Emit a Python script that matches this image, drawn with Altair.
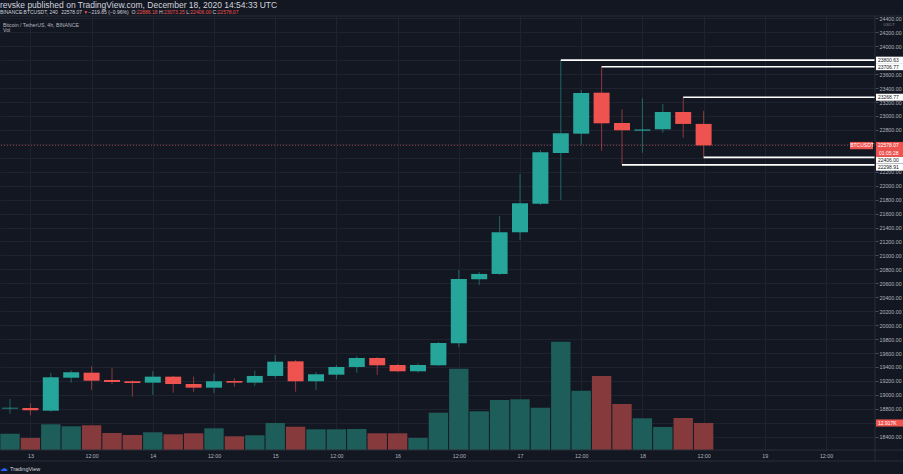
import altair as alt
import pandas as pd

# ---------------- data ----------------
times = [
    "2020-12-12T20:00:00Z",
    "2020-12-13T00:00:00Z", "2020-12-13T04:00:00Z", "2020-12-13T08:00:00Z",
    "2020-12-13T12:00:00Z", "2020-12-13T16:00:00Z", "2020-12-13T20:00:00Z",
    "2020-12-14T00:00:00Z", "2020-12-14T04:00:00Z", "2020-12-14T08:00:00Z",
    "2020-12-14T12:00:00Z", "2020-12-14T16:00:00Z", "2020-12-14T20:00:00Z",
    "2020-12-15T00:00:00Z", "2020-12-15T04:00:00Z", "2020-12-15T08:00:00Z",
    "2020-12-15T12:00:00Z", "2020-12-15T16:00:00Z", "2020-12-15T20:00:00Z",
    "2020-12-16T00:00:00Z", "2020-12-16T04:00:00Z", "2020-12-16T08:00:00Z",
    "2020-12-16T12:00:00Z", "2020-12-16T16:00:00Z", "2020-12-16T20:00:00Z",
    "2020-12-17T00:00:00Z", "2020-12-17T04:00:00Z", "2020-12-17T08:00:00Z",
    "2020-12-17T12:00:00Z", "2020-12-17T16:00:00Z", "2020-12-17T20:00:00Z",
    "2020-12-18T00:00:00Z", "2020-12-18T04:00:00Z", "2020-12-18T08:00:00Z",
    "2020-12-18T12:00:00Z",
]
opens = [18804, 18812, 18773, 19246, 19318, 19213, 19195, 19175, 19261, 19156,
         19103, 19199, 19175, 19271, 19481, 19195, 19289, 19400, 19529, 19428,
         19338, 19424, 19740, 20658, 20734, 21332, 21742, 22469, 22746, 23334,
         22899, 22789, 22809, 23057, 22886.18]
highs = [18941, 18879, 19314, 19350, 19410, 19390, 19206, 19342, 19271, 19261,
         19304, 19238, 19347, 19572, 19500, 19328, 19428, 19557, 19543, 19443,
         19450, 19758, 20791, 20762, 21566, 22168, 22512, 23800.63, 23373, 23706.77,
         23096, 23254, 23172, 23268.77, 23073.25]
lows = [18730, 18707, 18759, 19175, 19070, 19156, 18974, 18998, 19031, 19045,
        19022, 19117, 19127, 19238, 19045, 19070, 19223, 19318, 19285, 19328,
        19321, 19414, 19682, 20576, 20719, 21221, 21723, 21795, 22584, 22502,
        22298.91, 22473, 22760, 22689, 22406.00]
closes = [18815, 18779, 19252, 19324, 19203, 19185, 19170, 19261, 19156, 19103,
          19195, 19175, 19271, 19476, 19195, 19295, 19400, 19529, 19424, 19338,
          19428, 19744, 20662, 20734, 21332, 21748, 22479, 22752, 23330, 22895,
          22795, 22806, 23057, 22886.18, 22578.07]
volumes = [7800, 5740, 12290, 11340, 11810, 8130, 7180, 8470, 7510, 7990,
           10380, 6550, 7030, 12910, 11140, 9900, 9900, 10040, 7990, 7990,
           5740, 17840, 38890, 18510, 23920, 24250, 20230, 51800, 28360, 35390,
           22000, 15160, 11000, 15310, 12917]

line_prices = [23800.63, 23706.77, 23268.77, 22406.00, 22298.91]
line_starts = ["2020-12-17T08:00:00Z", "2020-12-17T16:00:00Z", "2020-12-18T08:00:00Z",
               "2020-12-18T12:00:00Z", "2020-12-17T20:00:00Z"]
line_label_levels = [23800.63, 23706.77, 23268.77, 22367.0, 22266.0]

price_ticks = list(range(18400, 24401, 200))
hidden_price_labels = [18600, 22400, 22600, 23800]   # covered by the value boxes
time_ticks = ["2020-12-13T00:00:00Z", "2020-12-13T12:00:00Z", "2020-12-14T00:00:00Z",
              "2020-12-14T12:00:00Z", "2020-12-15T00:00:00Z", "2020-12-15T12:00:00Z",
              "2020-12-16T00:00:00Z", "2020-12-16T12:00:00Z", "2020-12-17T00:00:00Z",
              "2020-12-17T12:00:00Z", "2020-12-18T00:00:00Z", "2020-12-18T12:00:00Z",
              "2020-12-19T00:00:00Z", "2020-12-19T12:00:00Z"]
view_start, view_end = "2020-12-12T18:02:21Z", "2020-12-19T21:36:21Z"
price_view = [18209, 24434]
volume_view = [0, 207580]

header1 = "revske published on TradingView.com, December 18, 2020 14:54:33 UTC"
header2 = [("BINANCE:BTCUSDT, 240  ", "w"), ("22578.07 ", "w"), ("\u25bc ", "r"),
           ("\u2212219.85 (\u22120.96%)  ", "w"), ("O:", "w"), ("22886.18 ", "r"),
           ("H:", "w"), ("23073.25 ", "r"), ("L:", "w"), ("22406.00 ", "r"),
           ("C:", "w"), ("22578.07", "r")]
legend_title = "Bitcoin / TetherUS, 4h, BINANCE"
countdown = "01:05:28"
symbol = "BTCUSDT"
currency = "USDT"

# ---------------- styling / layout ----------------
BG = "#131722"
TEAL, RED = "#26a69a", "#ef5350"
TEAL_V, RED_V = "#1e5e5a", "#863a3c"
GRID = "#1f2330"
BORDER = "#2a2e39"
TXT = "#b2b5be"
FONT = "Liberation Sans"
TOP, W, H = 16, 875, 434
TOTAL_W, TOTAL_H = 903, 474


def ms(s):
    return int(pd.Timestamp(s).value // 10**6)


def shift(s, minutes):
    return (pd.Timestamp(s) + pd.Timedelta(minutes=minutes)).strftime("%Y-%m-%dT%H:%M:%SZ")


df = pd.DataFrame({"time": times, "open": opens, "high": highs, "low": lows,
                   "close": closes, "volume": volumes})
df["dir"] = ["up" if c >= o else "down" for o, c in zip(opens, closes)]
df["vdir"] = ["vup" if c >= o else "vdown" for o, c in zip(opens, closes)]
df["b0"] = [shift(t, -94) for t in times]
df["b1"] = [shift(t, 94) for t in times]
df["v0"] = [shift(t, -114) for t in times]
df["v1"] = [shift(t, 114) for t in times]

x_scale = alt.Scale(type="utc", domain=[ms(view_start), ms(view_end)])
y_scale = alt.Scale(domain=price_view, nice=False, zero=False)
v_scale = alt.Scale(domain=volume_view, nice=False, zero=False)

x_axis = alt.Axis(values=[ms(t) for t in time_ticks], title=None, domain=False, ticks=False,
                  labelExpr="utchours(datum.value) == 0 ? toString(utcdate(datum.value)) : '12:00'",
                  labelFont=FONT, labelFontSize=5.3, labelColor=TXT, labelPadding=3,
                  labelFlush=False, labelOverlap=False, grid=True, gridColor=GRID,
                  gridWidth=1, zindex=0)
hidden_expr = "[" + ",".join(str(v) for v in hidden_price_labels) + "]"
price_axis = alt.Axis(orient="right", values=price_ticks, title=None,
                      labelExpr=f"indexof({hidden_expr}, datum.value) >= 0 ? '' : format(datum.value, '.2f')",
                      domain=False, ticks=True, tickSize=3, tickColor="#4a4e59",
                      labelFont=FONT, labelFontSize=5.3, labelColor=TXT, labelPadding=1,
                      labelOverlap=False, labelFlush=False, grid=True, gridColor=GRID,
                      gridWidth=1, zindex=0)

base = alt.Chart(df)

volume = base.mark_bar().encode(
    x=alt.X("v0:T", scale=x_scale, axis=x_axis),
    x2="v1:T",
    y=alt.Y("volume:Q", scale=v_scale, axis=None),
    y2=alt.datum(0),
    color=alt.Color("vdir:N", scale=alt.Scale(domain=["vup", "vdown"], range=[TEAL_V, RED_V]),
                    legend=None),
)

price_line = alt.Chart(df.tail(1)).mark_rule(color=RED, strokeWidth=1, strokeDash=[1, 2],
                                             opacity=0.6).encode(
    y=alt.Y("close:Q", scale=y_scale, axis=None))

dir_color = alt.Color("dir:N", scale=alt.Scale(domain=["up", "down"], range=[TEAL, RED]),
                      legend=None)

wicks = base.mark_rule(strokeWidth=1, opacity=0.55).encode(
    x=alt.X("time:T", scale=x_scale),
    y=alt.Y("low:Q", scale=y_scale, axis=price_axis),
    y2="high:Q",
    color=dir_color,
)

bodies = base.mark_bar().encode(
    x=alt.X("b0:T", scale=x_scale),
    x2="b1:T",
    y=alt.Y("open:Q", scale=y_scale, axis=None),
    y2="close:Q",
    color=dir_color,
)

lines_df = pd.DataFrame({"price": line_prices, "start": line_starts,
                         "level": line_label_levels, "end": view_end})
hlines = alt.Chart(lines_df).mark_rule(color="#ffffff", strokeWidth=1.6).encode(
    x=alt.X("start:T", scale=x_scale), x2="end:T",
    y=alt.Y("price:Q", scale=y_scale, axis=None))

line_boxes = alt.Chart(lines_df).transform_calculate(
    lo="datum.level - 50", hi="datum.level + 50"
).mark_bar(color="#ffffff").encode(
    x=alt.value(W + 1), x2=alt.value(TOTAL_W),
    y=alt.Y("lo:Q", scale=y_scale, axis=None), y2="hi:Q")
line_texts = alt.Chart(lines_df).mark_text(
    align="left", baseline="middle", font=FONT, fontSize=5, color=BG
).encode(x=alt.value(W + 3), y=alt.Y("level:Q", scale=y_scale, axis=None),
         text=alt.Text("price:Q", format=".2f"))

last_df = df.tail(1).copy()
last_df["countdown"] = countdown
last_df["symbol"] = symbol
price_box = alt.Chart(last_df).transform_calculate(
    lo="datum.close - 165", hi="datum.close + 50"
).mark_bar(color=RED).encode(
    x=alt.value(W + 1), x2=alt.value(TOTAL_W),
    y=alt.Y("lo:Q", scale=y_scale, axis=None), y2="hi:Q")
sym_box = alt.Chart(last_df).transform_calculate(
    lo="datum.close - 55", hi="datum.close + 50"
).mark_bar(color=RED).encode(
    x=alt.value(850), x2=alt.value(W - 2),
    y=alt.Y("lo:Q", scale=y_scale, axis=None), y2="hi:Q")
price_text = alt.Chart(last_df).mark_text(
    align="left", baseline="middle", font=FONT, fontSize=5, color="#ffffff"
).encode(x=alt.value(W + 3), y=alt.Y("close:Q", scale=y_scale, axis=None),
         text=alt.Text("close:Q", format=".2f"))
cd_text = alt.Chart(last_df).mark_text(
    align="left", baseline="middle", font=FONT, fontSize=5, color="#ffffff", dy=7.5
).encode(x=alt.value(W + 4), y=alt.Y("close:Q", scale=y_scale, axis=None),
         text="countdown:N")
sym_text = alt.Chart(last_df).mark_text(
    align="center", baseline="middle", font=FONT, fontSize=5, color="#ffffff"
).encode(x=alt.value(862), y=alt.Y("close:Q", scale=y_scale, axis=None),
         text="symbol:N")

vol_box = alt.Chart(last_df).transform_calculate(
    lo="datum.volume - 1700", hi="datum.volume + 1700",
).mark_bar(color=RED).encode(
    x=alt.value(W + 1), x2=alt.value(TOTAL_W),
    y=alt.Y("lo:Q", scale=v_scale, axis=None), y2="hi:Q")
vol_text = alt.Chart(last_df).transform_calculate(
    label="format(datum.volume / 1000, '.3f') + 'K'"
).mark_text(align="left", baseline="middle", font=FONT, fontSize=5, color="#ffffff").encode(
    x=alt.value(W + 3), y=alt.Y("volume:Q", scale=v_scale, axis=None), text="label:N")

one = pd.DataFrame({"k": [0]})


def rule(x0, x1, y0, y1, color=BORDER):
    return alt.Chart(one).mark_rule(color=color, strokeWidth=1).encode(
        x=alt.value(x0), x2=alt.value(x1), y=alt.value(y0), y2=alt.value(y1))


decor = [
    rule(0, TOTAL_W, 0, 0),
    rule(0, TOTAL_W, H, H),
    rule(0, TOTAL_W, H + 11, H + 11),
    rule(W, W, 0, H + 11),
]


def label(text, x, y_abs, size, color=TXT, weight="normal", align="left"):
    return alt.Chart(pd.DataFrame({"t": [text]})).mark_text(
        align=align, baseline="middle", font=FONT, fontSize=size, color=color,
        fontWeight=weight
    ).encode(x=alt.value(x), y=alt.value(y_abs - TOP), text="t:N")


ARIAL = {".": .278, ",": .278, ":": .278, " ": .278, "(": .333, ")": .333, "%": .889,
         "\u2212": .584, "\u25bc": .77, "A": .667, "B": .667, "C": .722, "D": .722,
         "E": .667, "H": .722, "I": .278, "L": .556, "N": .722, "O": .778, "S": .667,
         "T": .611, "U": .722}


def text_width(s, size):
    return sum(ARIAL.get(ch, .556) for ch in s) * size


H2_SIZE = 5.0
header_layers = [label(header1, 0, 5, 8.5, color="#d1d4dc")]
cursor = 0.0
for seg, col in header2:
    header_layers.append(label(seg, cursor, 11.5, H2_SIZE,
                               color="#d1d4dc" if col == "w" else RED))
    cursor += text_width(seg, H2_SIZE)
header_layers += [
    label(legend_title, 3, 24.5, 5.2),
    label("Vol", 3, 30, 5.2),
    label(currency, 889, 24.5, 4.3, color="#787b86", align="center"),
    label("\u2601", 0, 468.5, 8, color="#2962ff"),
    label("TradingView", 10, 468.5, 5.5, color="#d1d4dc"),
]

chart = alt.layer(
    volume, price_line, wicks, bodies, hlines, line_boxes, line_texts,
    price_box, sym_box, price_text, cd_text, sym_text, vol_box, vol_text,
    *decor, *header_layers
).resolve_scale(y="independent", color="independent").properties(
    width=W, height=H,
    background=BG,
    padding={"left": 0, "top": TOP, "right": TOTAL_W - W, "bottom": TOTAL_H - TOP - H},
    autosize=alt.AutoSizeParams(type="none"),
).configure_view(stroke="transparent")

chart.save("out.html", embed_options={"renderer": "svg", "actions": False})
